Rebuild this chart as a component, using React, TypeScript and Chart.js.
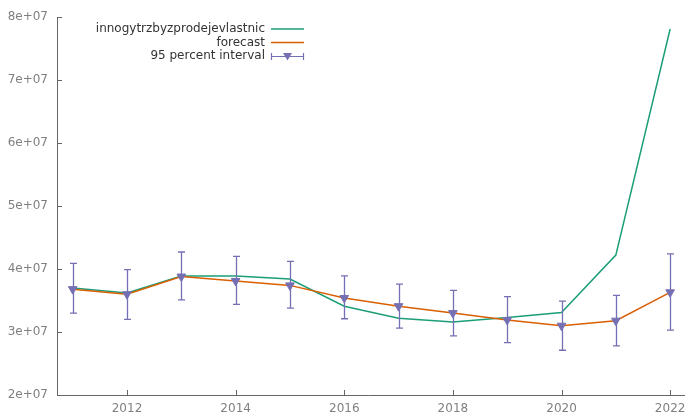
import React, { useEffect, useRef } from "react";
import { Chart, registerables } from "chart.js";

Chart.register(...registerables);

const years = [2011, 2012, 2013, 2014, 2015, 2016, 2017, 2018, 2019, 2020, 2021, 2022];
const actual = [3.70e7, 3.62e7, 3.89e7, 3.89e7, 3.84e7, 3.41e7, 3.22e7, 3.16e7, 3.23e7, 3.31e7, 4.22e7, 7.81e7];
const forecast = [3.68e7, 3.60e7, 3.88e7, 3.81e7, 3.74e7, 3.54e7, 3.41e7, 3.30e7, 3.19e7, 3.10e7, 3.18e7, 3.63e7];
const lower = [3.30e7, 3.20e7, 3.51e7, 3.44e7, 3.38e7, 3.21e7, 3.06e7, 2.94e7, 2.83e7, 2.71e7, 2.78e7, 3.03e7];
const upper = [4.09e7, 3.99e7, 4.27e7, 4.20e7, 4.12e7, 3.89e7, 3.76e7, 3.66e7, 3.56e7, 3.49e7, 3.58e7, 4.24e7];
const xTicks = [2012, 2014, 2016, 2018, 2020, 2022];
const legendLabels = ["innogytrzbyzprodejevlastnic", "forecast", "95 percent interval"];

const GREEN = "#1b9e77";
const ORANGE = "#d95f02";
const PURPLE = "#7570b3";
const FONT = "12px 'DejaVu Sans'";

const extrasPlugin = {
  id: "extras",
  afterDatasetsDraw(chart: any) {
    const ctx = chart.ctx;
    const xs = chart.scales.x;
    const ys = chart.scales.y;
    ctx.save();
    ctx.strokeStyle = PURPLE;
    ctx.lineWidth = 1.3;
    years.forEach((yr, i) => {
      const px = Math.round(xs.getPixelForValue(yr)) + 0.5;
      const y1 = ys.getPixelForValue(lower[i]);
      const y2 = ys.getPixelForValue(upper[i]);
      ctx.beginPath();
      ctx.moveTo(px, y1);
      ctx.lineTo(px, y2);
      ctx.moveTo(px - 3.5, y1);
      ctx.lineTo(px + 3.5, y1);
      ctx.moveTo(px - 3.5, y2);
      ctx.lineTo(px + 3.5, y2);
      ctx.stroke();
    });
    ctx.restore();
  },
  afterDraw(chart: any) {
    const ctx = chart.ctx;
    const area = chart.chartArea;
    const xs = chart.scales.x;
    const ys = chart.scales.y;
    ctx.save();
    ctx.strokeStyle = "#666";
    ctx.lineWidth = 1;
    ctx.beginPath();
    ys.ticks.forEach((t: any) => {
      const py = Math.round(ys.getPixelForValue(t.value)) + 0.5;
      ctx.moveTo(area.left, py);
      ctx.lineTo(area.left + 5, py);
    });
    xTicks.forEach((v) => {
      const px = Math.round(xs.getPixelForValue(v)) + 0.5;
      ctx.moveTo(px, area.bottom);
      ctx.lineTo(px, area.bottom - 5);
    });
    // extend the bottom spine to the right edge like the reference
    const by = Math.round(area.bottom) + 0.5;
    ctx.moveTo(area.right, by);
    ctx.lineTo(685, by);
    ctx.stroke();

    // legend
    ctx.font = FONT;
    ctx.textAlign = "right";
    ctx.textBaseline = "middle";
    ctx.fillStyle = "#333";
    const textRight = 265;
    const rowsY = [29, 42.5, 55.5];
    legendLabels.forEach((lab, i) => ctx.fillText(lab, textRight, rowsY[i]));
    const lx1 = 271;
    const lx2 = 304;
    ctx.lineWidth = 1.5;
    ctx.strokeStyle = GREEN;
    ctx.beginPath();
    ctx.moveTo(lx1, rowsY[0]);
    ctx.lineTo(lx2, rowsY[0]);
    ctx.stroke();
    ctx.strokeStyle = ORANGE;
    ctx.beginPath();
    ctx.moveTo(lx1, rowsY[1]);
    ctx.lineTo(lx2, rowsY[1]);
    ctx.stroke();
    ctx.strokeStyle = PURPLE;
    ctx.lineWidth = 1.2;
    const ey = Math.round(rowsY[2]) + 0.5;
    ctx.beginPath();
    ctx.moveTo(lx1, ey);
    ctx.lineTo(lx2, ey);
    ctx.moveTo(lx1 + 0.5, ey - 3.5);
    ctx.lineTo(lx1 + 0.5, ey + 3.5);
    ctx.moveTo(lx2 - 0.5, ey - 3.5);
    ctx.lineTo(lx2 - 0.5, ey + 3.5);
    ctx.stroke();
    const cx = (lx1 + lx2) / 2;
    ctx.fillStyle = PURPLE;
    ctx.beginPath();
    ctx.moveTo(cx - 4.5, ey - 3.5);
    ctx.lineTo(cx + 4.5, ey - 3.5);
    ctx.lineTo(cx, ey + 4);
    ctx.closePath();
    ctx.fill();
    ctx.restore();
  },
};

export default function App() {
  const ref = useRef<HTMLCanvasElement | null>(null);
  useEffect(() => {
    document.body.style.margin = "0";
    const canvas = ref.current;
    if (!canvas) return;
    const chart = new Chart(canvas, {
      type: "line",
      data: {
        datasets: [
          {
            label: legendLabels[2],
            data: years.map((x, i) => ({ x, y: forecast[i] })),
            showLine: false,
            pointStyle: "triangle",
            rotation: 180,
            pointRadius: 5,
            pointBackgroundColor: PURPLE,
            pointBorderColor: PURPLE,
            borderColor: PURPLE,
            order: 0,
          },
          {
            label: legendLabels[1],
            data: years.map((x, i) => ({ x, y: forecast[i] })),
            borderColor: ORANGE,
            borderWidth: 1.5,
            pointRadius: 0,
            tension: 0,
            order: 1,
          },
          {
            label: legendLabels[0],
            data: years.map((x, i) => ({ x, y: actual[i] })),
            borderColor: GREEN,
            borderWidth: 1.5,
            pointRadius: 0,
            tension: 0,
            order: 2,
          },
        ],
      },
      options: {
        responsive: false,
        animation: false,
        layout: { padding: { top: 17, right: 2, left: 0, bottom: 0 } },
        plugins: { legend: { display: false }, tooltip: { enabled: false } },
        scales: {
          x: {
            type: "linear",
            min: 2010.711,
            max: 2022.2,
            afterBuildTicks: (scale: any) => {
              scale.ticks = xTicks.map((v) => ({ value: v }));
            },
            afterFit: (scale: any) => {
              scale.height = 19;
              scale.paddingLeft = 0;
              scale.paddingRight = 0;
            },
            grid: { display: false, drawTicks: false },
            border: { display: true, color: "#666", width: 1 },
            ticks: {
              color: "#808080",
              font: { family: "DejaVu Sans", size: 12 },
              padding: 7,
              maxRotation: 0,
              callback: (v: any) => String(v),
            },
          },
          y: {
            type: "linear",
            min: 2e7,
            max: 8e7,
            afterFit: (scale: any) => {
              scale.width = 57;
              scale.paddingTop = 0;
              scale.paddingBottom = 0;
            },
            grid: { display: false, drawTicks: false },
            border: { display: true, color: "#666", width: 1 },
            ticks: {
              stepSize: 1e7,
              color: "#808080",
              font: { family: "DejaVu Sans", size: 12 },
              padding: 9,
              callback: (v: any) => Math.round(Number(v) / 1e7) + "e+07",
            },
          },
        },
      },
      plugins: [extrasPlugin],
    });
    return () => chart.destroy();
  }, []);
  return <canvas ref={ref} width={687} height={414} style={{ display: "block", width: 687, height: 414 }} />;
}
